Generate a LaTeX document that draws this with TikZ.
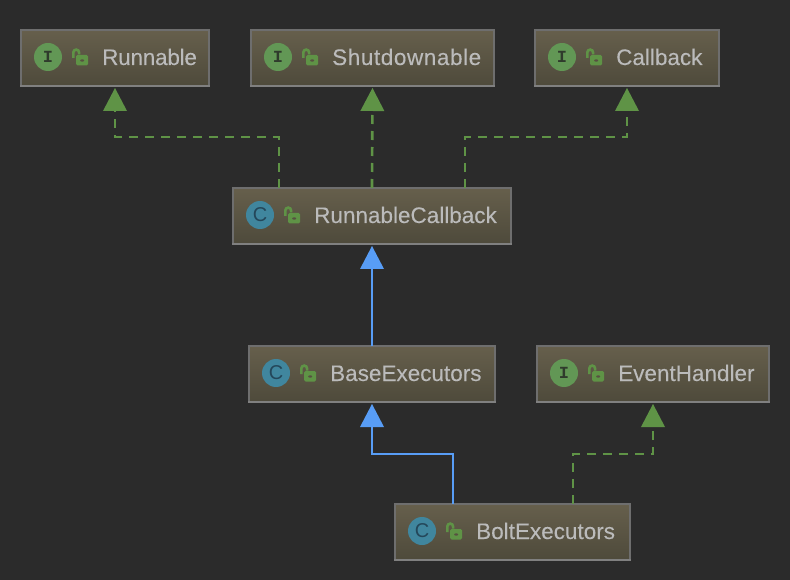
\documentclass[tikz,border=0pt]{standalone}
\usepackage{fontspec}
\setmainfont{Liberation Sans}
\newfontfamily\labelf[FakeBold=0.12]{Liberation Sans}
\newfontfamily\monof{Liberation Mono}
\usetikzlibrary{arrows.meta,calc}
\definecolor{bgc}{HTML}{2B2B2B}
\definecolor{boxtop}{HTML}{665F4C}
\definecolor{boxbot}{HTML}{4E4A3B}
\definecolor{edgec}{HTML}{6E6E6E}
\definecolor{edgeb}{HTML}{808080}
\definecolor{txtc}{HTML}{BBBBBB}
\definecolor{greenc}{HTML}{5F9346}
\definecolor{bluec}{HTML}{589DF6}
\definecolor{ifacec}{HTML}{629755}
\definecolor{classc}{HTML}{40869E}
\definecolor{ifacel}{HTML}{2F3B2C}
\definecolor{classl}{HTML}{24475A}
\tikzset{
 x=1pt,y=-1pt,
 classbox/.style={draw=edgec,line width=2pt,top color=boxtop,bottom color=boxbot,minimum height=56pt,inner sep=0pt,outer sep=0pt},
 iconI/.style={circle,fill=ifacec,minimum size=28pt,inner sep=0pt,text=ifacel,font=\monof\bfseries\fontsize{17}{17}\selectfont},
 iconC/.style={circle,fill=classc,minimum size=28pt,inner sep=0pt,text=classl,font=\fontsize{20}{20}\selectfont},
 lbl/.style={anchor=base west,inner sep=0pt,text=txtc,font=\labelf\fontsize{22.5}{24}\selectfont},
 impl/.style={draw=greenc,line width=2.6pt,dash pattern=on 9pt off 7pt,shorten >=2pt,-{Triangle[length=23pt,width=24pt,line width=0pt,fill=greenc,color=greenc]}},
 ext/.style={draw=bluec,line width=2.6pt,shorten >=2pt,-{Triangle[length=23pt,width=24pt,line width=0pt,fill=bluec,color=bluec]}},
}
% #1 name, #2 left, #3 top, #4 width, #5 label, #6 I or C
\newcommand{\umlclass}[6]{%
 \node[classbox,minimum width=#4pt-2pt] (#1) at (#2+#4/2,#3+29) {};
 \draw[edgeb,line width=2.4pt] (#2,#3+56.8) -- (#2+#4,#3+56.8);
 \node[icon#6] (#1icon) at (#2+28,#3+28) {#6};
 \begin{scope}[shift={(#2+52,#3+20)},greenc]
  \draw[line width=2.6pt] (1.3,9) -- (1.3,3.5) arc[start angle=180,end angle=360,radius=2.9] -- (7.1,5.5);
  \fill[rounded corners=1.5pt] (4,6) rectangle (16.2,16.5);
  \fill[boxtop!85!black] (10.2,11.5) ellipse[x radius=2,y radius=1.2];
 \end{scope}
 \node[lbl] (#1label) at (#2+82,#3+36) {#5};
}
\begin{document}
\begin{tikzpicture}
\fill[bgc] (0,0) rectangle (790,580);
\useasboundingbox (0,0) rectangle (790,580);
\umlclass{run}{20}{29}{190}{\addfontfeature{LetterSpace=-1}Runnable}{I}
\umlclass{shut}{250}{29}{245}{\addfontfeature{LetterSpace=2.6}Shutdownable}{I}
\umlclass{cb}{534}{29}{186}{Callback}{I}
\umlclass{rc}{232}{187}{280}{RunnableCallback}{C}
\umlclass{be}{248}{345}{248}{BaseExecutors}{C}
\umlclass{eh}{536}{345}{234}{EventHandler}{I}
\umlclass{bolt}{394}{503}{237}{BoltExecutors}{C}
\draw[impl] ($(rc.north)+(-93,0)$) |- ($(run.south)+(0,51)$) -- (run.south);
\draw[impl] (rc.north) -- (shut.south);
\draw[impl] ($(rc.north)+(93,0)$) |- ($(cb.south)+(0,51)$) -- (cb.south);
\draw[ext] (be.north) -- (rc.south);
\draw[ext] ($(bolt.north)+(-59.5,0)$) |- ($(be.south)+(0,52)$) -- (be.south);
\draw[impl] ($(bolt.north)+(60.5,0)$) |- ($(eh.south)+(0,52)$) -- (eh.south);
\end{tikzpicture}
\end{document}
